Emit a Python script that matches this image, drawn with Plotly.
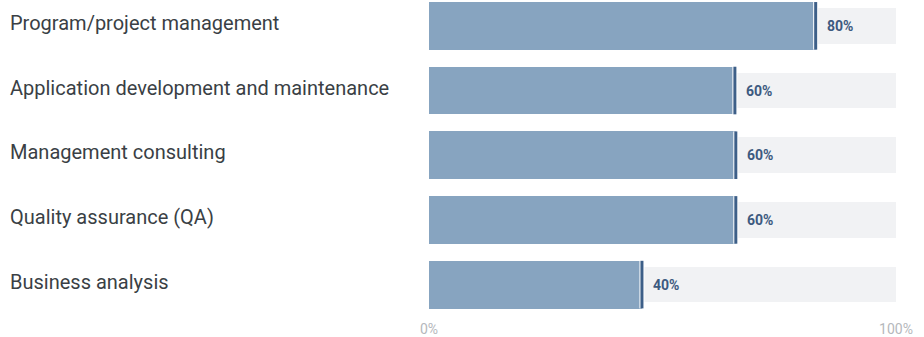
import plotly.graph_objects as go

categories = [
    "Program/project management",
    "Application development and maintenance",
    "Management consulting",
    "Quality assurance (QA)",
    "Business analysis",
]
values = [82.8, 65.5, 65.7, 65.7, 45.6]
value_labels = ["80%", "60%", "60%", "60%", "40%"]
track_max = [100, 100, 100, 100, 100]
tick_vals = [0, 100]
tick_text = ["0%", "100%"]

ypos = list(range(len(categories)))

fig = go.Figure()

# background tracks
fig.add_trace(go.Bar(
    x=track_max, y=ypos, orientation="h", width=0.55,
    marker=dict(color="#f1f2f4", line=dict(width=0)),
    hoverinfo="skip", showlegend=False,
))
# value bars
fig.add_trace(go.Bar(
    x=values, y=ypos, orientation="h", width=0.74,
    marker=dict(color="#87a4c0", line=dict(width=0)),
    showlegend=False,
))
fig.update_layout(barmode="overlay")

# white gap + dark end marker
fig.add_trace(go.Scatter(
    x=values, y=ypos, mode="markers",
    marker=dict(symbol="line-ns", size=34, line=dict(width=5, color="white")),
    hoverinfo="skip", showlegend=False,
))
fig.add_trace(go.Scatter(
    x=values, y=ypos, mode="markers",
    marker=dict(symbol="line-ns", size=34, line=dict(width=3, color="#3d5f88")),
    hoverinfo="skip", showlegend=False,
))

annotations = []
for i, (v, lab) in enumerate(zip(values, value_labels)):
    annotations.append(dict(
        x=v, y=i, xref="x", yref="y", text="<b>" + lab + "</b>",
        showarrow=False, xanchor="left", yanchor="middle", xshift=9,
        font=dict(size=14, color="#3d5a80", family="Roboto"),
    ))
for i, c in enumerate(categories):
    annotations.append(dict(
        x=-421 / 467, y=i, xref="paper", yref="y", text=c,
        showarrow=False, xanchor="left", yanchor="middle", yshift=3,
        font=dict(size=20, color="#3a3f45", family="Roboto"),
    ))

px_per_row = 65.1
plot_h = 318
top_val = -26 / px_per_row
bot_val = (plot_h - 26) / px_per_row

fig.update_layout(
    width=924, height=337,
    margin=dict(l=429, r=28, t=0, b=337 - plot_h, pad=0),
    paper_bgcolor="white", plot_bgcolor="white",
    xaxis=dict(range=[0, 100], tickvals=tick_vals, ticktext=tick_text,
               showgrid=False, zeroline=False, showline=False,
               tickfont=dict(size=14, color="#b5b8bc", family="Roboto"),
               ticks="", ticklabelstandoff=3, fixedrange=True),
    yaxis=dict(range=[bot_val, top_val], showticklabels=False, showgrid=False,
               zeroline=False, showline=False, fixedrange=True),
    annotations=annotations,
    bargap=0,
)

fig.write_html("out.html", post_script="document.body.style.margin='0';",
               config={"displayModeBar": False})
